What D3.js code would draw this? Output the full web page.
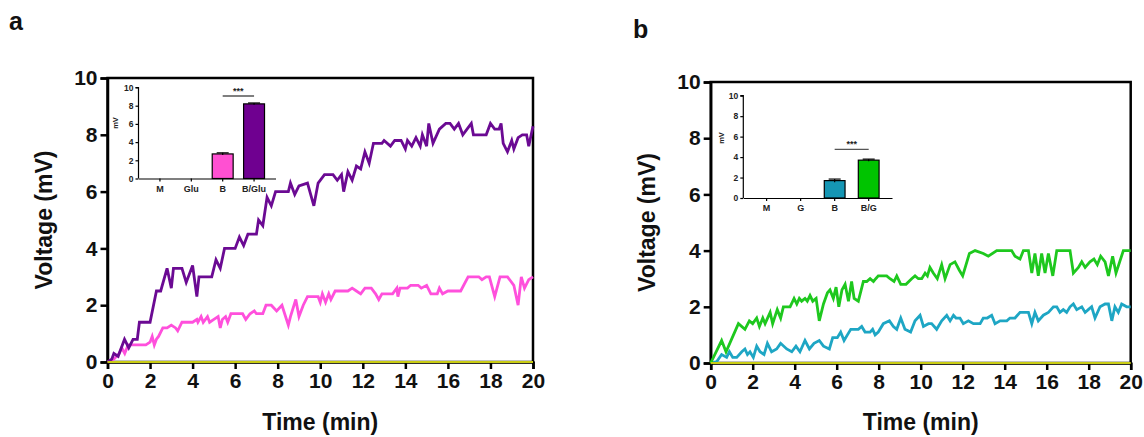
<!DOCTYPE html>
<html>
<head>
<meta charset="utf-8">
<script src="https://cdn.jsdelivr.net/npm/d3@7"></script>
<style>
body { margin: 0; background: #fff; }
svg text { font-family: Arial, "Liberation Sans", sans-serif; font-weight: bold; }
</style>
</head>
<body>
<svg id="chart" width="1144" height="437"></svg>
<script>
// panel a: voltage over time, [min, mV]
const aBGlu = [[0,0],[0.2,0.1],[0.3,0.3],[0.5,0.2],[0.8,0.8],[1.0,0.5],[1.2,0.8],[1.4,0.8],[1.5,1.4],[2.0,1.4],[2.3,2.5],[2.5,2.5],[2.8,3.3],[3.0,2.6],[3.1,3.3],[3.5,3.3],[3.7,2.8],[4.0,3.4],[4.2,2.3],[4.3,3.0],[4.9,3.0],[5.1,3.6],[5.3,3.3],[5.5,4.0],[6.0,4.0],[6.2,4.4],[6.4,4.1],[6.6,4.5],[7.0,4.5],[7.1,5.0],[7.3,4.8],[7.5,5.8],[7.7,5.5],[7.9,6.0],[8.5,6.0],[8.6,6.3],[8.8,5.9],[9.0,6.2],[9.4,6.3],[9.7,5.5],[9.9,6.3],[10.2,6.6],[10.6,6.6],[10.8,6.4],[11.0,6.6],[11.1,6.0],[11.3,6.7],[11.5,6.4],[11.7,6.9],[11.9,6.8],[12.1,7.4],[12.3,7.0],[12.5,7.7],[12.9,7.7],[13.0,7.8],[13.3,7.6],[13.5,7.8],[13.8,7.8],[14.0,7.5],[14.1,7.8],[14.3,7.6],[14.5,7.9],[14.7,7.6],[14.8,8.0],[15.0,7.6],[15.1,8.4],[15.3,7.7],[15.6,8.2],[15.9,8.4],[16.1,8.4],[16.3,8.2],[16.5,8.4],[16.7,8.0],[16.9,8.2],[17.1,8.4],[17.2,8.0],[17.8,8.0],[18.0,8.4],[18.2,8.2],[18.4,8.2],[18.5,8.4],[18.6,7.7],[18.8,7.4],[19.0,7.8],[19.1,7.5],[19.3,7.9],[19.5,8.0],[19.7,8.0],[19.8,7.6],[20.0,8.3]];
const aB = [[0,0],[0.3,0.1],[0.55,0.3],[0.67,0.5],[0.81,0.3],[0.97,0.6],[1.5,0.6],[1.8,0.6],[2.0,0.7],[2.1,0.9],[2.2,0.6],[2.3,0.8],[2.4,0.9],[2.6,1.2],[2.8,1.2],[3.0,1.3],[3.2,1.2],[3.3,1.1],[3.5,1.4],[4.0,1.4],[4.2,1.5],[4.25,1.4],[4.4,1.6],[4.5,1.4],[4.7,1.6],[4.8,1.4],[5.0,1.5],[5.2,1.6],[5.3,1.2],[5.4,1.5],[5.55,1.6],[5.65,1.4],[5.8,1.7],[6.35,1.7],[6.5,1.5],[6.7,1.7],[6.9,1.8],[7.0,1.7],[7.3,1.7],[7.45,2.0],[7.7,2.0],[7.95,1.8],[8.2,2.0],[8.5,1.3],[8.6,1.6],[8.85,2.2],[9.0,1.6],[9.2,2.0],[9.4,2.3],[9.9,2.3],[10.0,2.1],[10.1,2.4],[10.25,2.1],[10.4,2.4],[10.5,2.2],[10.7,2.5],[11.3,2.5],[11.5,2.6],[11.7,2.5],[11.9,2.4],[12.1,2.6],[12.4,2.6],[12.6,2.4],[12.75,2.2],[12.9,2.4],[13.4,2.4],[13.6,2.6],[13.65,2.3],[13.75,2.6],[14.1,2.6],[14.25,2.7],[14.6,2.7],[14.75,2.6],[15.0,2.7],[15.2,2.4],[15.5,2.4],[15.6,2.6],[15.75,2.4],[16.0,2.5],[16.6,2.5],[16.95,3.0],[17.45,3.0],[17.6,2.9],[17.8,3.0],[17.95,3.0],[18.2,2.3],[18.45,3.0],[18.8,3.0],[19.1,2.7],[19.3,2.0],[19.45,3.0],[19.6,2.6],[19.8,2.9],[20,3.0]];

// panel b
const bBG = [[0,0],[0.52,0.8],[0.73,0.4],[1.32,1.4],[1.63,1.2],[1.84,1.5],[2.0,1.4],[2.19,1.6],[2.32,1.3],[2.48,1.6],[2.59,1.4],[2.83,1.8],[2.95,1.4],[3.17,1.9],[3.33,1.6],[3.46,2.0],[3.78,2.0],[3.97,2.3],[4.1,2.1],[4.22,2.3],[4.33,2.2],[4.49,2.3],[4.6,2.2],[4.73,2.4],[4.86,2.2],[5.02,2.3],[5.17,1.5],[5.37,2.1],[5.56,2.5],[5.68,2.6],[5.84,2.3],[5.97,2.7],[6.1,2.0],[6.25,2.6],[6.4,2.8],[6.56,2.2],[6.71,2.9],[6.83,2.3],[7.03,2.2],[7.27,2.9],[7.43,2.9],[7.59,3.0],[7.75,2.9],[7.86,3.0],[7.98,3.1],[8.38,3.1],[8.54,3.0],[8.73,2.9],[8.86,3.1],[9.05,2.8],[9.3,2.8],[9.57,3.0],[9.73,3.1],[9.89,3.0],[10.05,3.0],[10.21,3.2],[10.32,3.1],[10.44,3.4],[10.6,3.2],[10.79,3.0],[11.0,3.5],[11.16,3.0],[11.4,3.5],[11.63,3.6],[11.84,3.3],[12.0,3.1],[12.32,3.9],[12.59,4.0],[12.98,3.9],[13.22,3.8],[13.62,4.0],[14.33,4.0],[14.49,3.8],[14.73,3.7],[14.89,4.0],[15.13,4.0],[15.29,3.2],[15.44,3.9],[15.6,3.1],[15.76,3.9],[15.92,3.2],[16.08,3.9],[16.29,3.1],[16.48,4.0],[17.11,4.0],[17.27,3.2],[17.51,3.4],[17.67,3.6],[17.83,3.4],[18.06,3.6],[18.25,3.7],[18.41,3.5],[18.57,3.8],[18.78,3.6],[18.94,3.1],[19.14,3.8],[19.3,3.2],[19.65,4.0],[20,4.0]];
const bB = [[0,0],[0.29,0.05],[0.52,0.3],[0.76,0.2],[0.89,0.4],[1.05,0.2],[1.24,0.2],[1.48,0.4],[1.63,0.5],[1.75,0.3],[1.87,0.4],[2.03,0.2],[2.19,0.6],[2.35,0.4],[2.54,0.3],[2.7,0.7],[2.9,0.4],[3.14,0.5],[3.33,0.7],[3.62,0.5],[3.86,0.4],[4.06,0.6],[4.25,0.4],[4.49,0.8],[4.7,0.5],[4.92,0.7],[5.17,0.8],[5.37,0.6],[5.65,0.5],[5.81,0.9],[6.03,0.9],[6.19,1.1],[6.35,0.8],[6.51,1.0],[6.67,1.2],[7.03,1.2],[7.19,1.3],[7.35,1.1],[7.59,1.1],[7.71,1.2],[7.83,1.0],[7.98,1.1],[8.22,1.4],[8.51,1.5],[8.7,1.3],[8.86,1.2],[9.05,1.6],[9.25,1.2],[9.52,1.1],[9.73,1.5],[9.97,1.7],[10.13,1.3],[10.37,1.4],[10.52,1.4],[10.76,1.2],[11.0,1.5],[11.24,1.7],[11.4,1.5],[11.56,1.7],[11.68,1.6],[11.87,1.6],[12.03,1.4],[12.27,1.5],[12.51,1.4],[12.83,1.4],[12.98,1.6],[13.17,1.6],[13.38,1.7],[13.54,1.4],[13.78,1.5],[14.1,1.5],[14.25,1.6],[14.49,1.6],[14.73,1.8],[15.13,1.8],[15.29,1.4],[15.44,1.8],[15.6,1.5],[15.84,1.7],[16.08,1.8],[16.32,2.0],[16.48,2.0],[16.63,1.8],[16.79,1.9],[16.95,1.8],[17.11,2.0],[17.27,2.1],[17.43,1.9],[17.67,2.0],[17.83,1.8],[17.98,1.9],[18.14,2.0],[18.3,1.6],[18.54,2.0],[18.78,2.1],[18.94,2.1],[19.1,1.5],[19.25,2.0],[19.41,1.8],[19.57,2.1],[19.81,2.0],[20,2.0]];

// medium-only and glucose-only controls stay at zero
const zeroLine = [[0,0],[20,0]];

const xTicks = [0,2,4,6,8,10,12,14,16,18,20];
const yTicks = [0,2,4,6,8,10];
const insetTicks = [0,2,4,6,8,10];

const insetACats = ['M','Glu','B','B/Glu'];
const insetAVals = [0,0,2.7,8.2];
const insetAErr = [0,0,0.12,0.1];
const insetBCats = ['M','G','B','B/G'];
const insetBVals = [0,0,1.7,3.7];
const insetBErr = [0,0,0.15,0.1];

const svg = d3.select('#chart');

function drawPanel(p) {
  const x = d3.scaleLinear().domain([0,20]).range([p.left, p.right]);
  const y = d3.scaleLinear().domain([0,10]).range([p.bottom, p.top]);
  const g = svg.append('g');

  // frame
  g.append('rect')
    .attr('x', p.left).attr('y', p.top)
    .attr('width', p.right - p.left).attr('height', p.bottom - p.top)
    .attr('fill', 'none').attr('stroke', '#000').attr('stroke-width', 2.5);

  const xa = g.append('g').attr('transform', 'translate(0,' + p.bottom + ')')
    .call(d3.axisBottom(x).tickValues(xTicks).tickSize(7).tickPadding(4));
  const ya = g.append('g').attr('transform', 'translate(' + p.left + ',0)')
    .call(d3.axisLeft(y).tickValues(yTicks).tickSize(7).tickPadding(3));
  [xa, ya].forEach(a => {
    a.select('.domain').attr('stroke-width', 2.5);
    a.selectAll('.tick line').attr('stroke-width', 2.5);
    a.selectAll('.tick text').attr('font-size', 21).attr('fill', '#111');
  });

  const line = d3.line().x(d => x(d[0])).y(d => y(d[1]));
  p.series.forEach(s => {
    g.append('path').datum(s.data).attr('d', line)
      .attr('fill', 'none').attr('stroke', s.color)
      .attr('stroke-width', 2.8).attr('stroke-linejoin', 'miter');
  });
  g.append('path').datum(zeroLine).attr('d', line)
    .attr('fill', 'none').attr('stroke', '#c9cc14').attr('stroke-width', 2.2);

  g.append('text').attr('x', (p.left + p.right) / 2).attr('y', 430)
    .attr('text-anchor', 'middle').attr('font-size', 23).attr('fill', '#111')
    .text('Time (min)');
  g.append('text')
    .attr('transform', 'translate(' + p.ylabX + ',' + ((p.top + p.bottom) / 2) + ') rotate(-90)')
    .attr('text-anchor', 'middle').attr('font-size', 23).attr('fill', '#111')
    .text('Voltage (mV)');
  g.append('text').attr('x', p.tagX).attr('y', p.tagY)
    .attr('font-size', 25).attr('fill', '#111').text(p.tag);

  drawInset(p.inset);
}

function drawInset(q) {
  const g = svg.append('g');
  const y = d3.scaleLinear().domain([0,10]).range([q.bottom, q.top]);
  const x = d3.scaleBand().domain(q.cats).range([q.left, q.right])
    .paddingInner(q.padIn).paddingOuter(q.padOut);

  g.selectAll('.bar').data(q.vals).enter().append('rect')
    .attr('x', (d, i) => x(q.cats[i]))
    .attr('y', d => y(d))
    .attr('width', x.bandwidth())
    .attr('height', d => q.bottom - y(d))
    .attr('fill', (d, i) => q.colors[i])
    .attr('stroke', '#000').attr('stroke-width', 1.2);

  // error bars
  q.vals.forEach((v, i) => {
    if (!q.err[i]) return;
    const cx = x(q.cats[i]) + x.bandwidth() / 2;
    g.append('line').attr('x1', cx).attr('x2', cx)
      .attr('y1', y(v - q.err[i])).attr('y2', y(v + q.err[i]))
      .attr('stroke', '#000').attr('stroke-width', 1.2);
    g.append('line').attr('x1', cx - 6).attr('x2', cx + 6)
      .attr('y1', y(v + q.err[i])).attr('y2', y(v + q.err[i]))
      .attr('stroke', '#000').attr('stroke-width', 1.2);
  });

  const ya = g.append('g').attr('transform', 'translate(' + q.left + ',0)')
    .call(d3.axisLeft(y).tickValues(insetTicks).tickSize(3).tickPadding(2));
  const xa = g.append('g').attr('transform', 'translate(0,' + q.bottom + ')')
    .call(d3.axisBottom(x).tickSize(3).tickPadding(4).tickSizeOuter(0));
  ya.call(a => a.select('.domain').attr('d', 'M-3,' + q.top + 'H0V' + q.bottom));
  [xa, ya].forEach(a => {
    a.selectAll('path, line').attr('stroke-width', 1.2);
    a.selectAll('.tick text').attr('font-size', 8.5).attr('fill', '#222');
  });
  xa.selectAll('.tick text').attr('font-size', 9);

  g.append('text')
    .attr('transform', 'translate(' + q.mvX + ',' + q.mvY + ') rotate(-90)')
    .attr('text-anchor', 'middle').attr('font-size', 7.5).attr('fill', '#222')
    .text('mV');

  // significance bracket between B and B/x
  const c2 = x(q.cats[2]) + x.bandwidth() / 2;
  const c3 = x(q.cats[3]) + x.bandwidth() / 2;
  g.append('line').attr('x1', c2).attr('x2', c3)
    .attr('y1', q.sigY).attr('y2', q.sigY)
    .attr('stroke', '#555').attr('stroke-width', 1.3);
  g.append('text').attr('x', (c2 + c3) / 2).attr('y', q.sigY - 2.5)
    .attr('text-anchor', 'middle').attr('font-size', 9).attr('fill', '#222')
    .text('***');
}

drawPanel({
  left: 107.5, right: 533, top: 78, bottom: 362,
  ylabX: 52, tag: 'a', tagX: 9, tagY: 30,
  series: [
    {data: aB, color: '#ff50dc'},
    {data: aBGlu, color: '#6b0a93'}
  ],
  inset: {
    left: 138.5, right: 275.5, top: 87.5, bottom: 178.5,
    padIn: 0.333, padOut: 0.35,
    cats: insetACats, vals: insetAVals, err: insetAErr,
    colors: ['#ff50d2','#ff50d2','#ff50d2','#6f0090'],
    mvX: 118, mvY: 123, sigY: 96
  }
});

drawPanel({
  left: 710.7, right: 1130.7, top: 82, bottom: 363,
  ylabX: 655, tag: 'b', tagX: 633, tagY: 38,
  series: [
    {data: bB, color: '#1ea6c4'},
    {data: bBG, color: '#1ec81e'}
  ],
  inset: {
    left: 743.3, right: 892, top: 95.7, bottom: 198,
    padIn: 0.39, padOut: 0.38,
    cats: insetBCats, vals: insetBVals, err: insetBErr,
    colors: ['#1596b4','#1596b4','#1596b4','#00c400'],
    mvX: 724, mvY: 138, sigY: 149.3
  }
});
</script>
</body>
</html>
